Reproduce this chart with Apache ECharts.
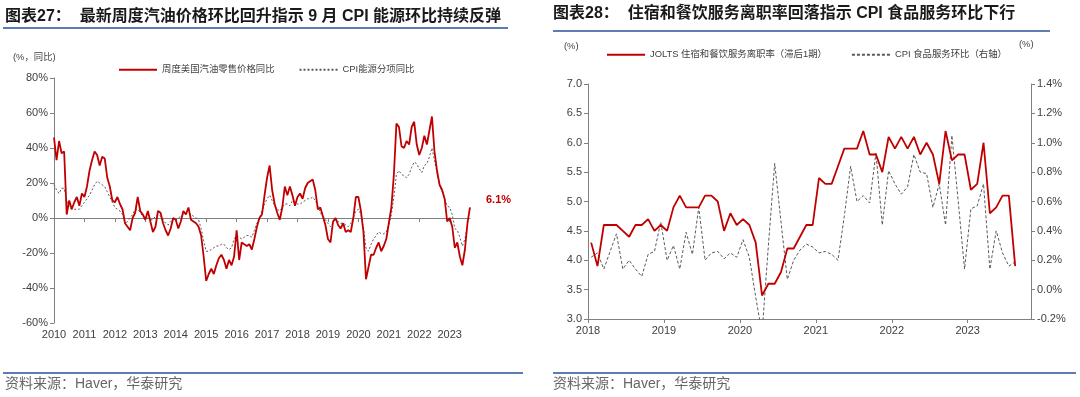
<!DOCTYPE html>
<html>
<head>
<meta charset="utf-8">
<script src="https://cdn.jsdelivr.net/npm/echarts@6/dist/echarts.min.js"></script>
<style>
  html, body { margin: 0; padding: 0; background: #fff; }
  #chart { width: 1080px; height: 397px; }
</style>
</head>
<body>
<div id="chart"></div>
<script>
// 图表27: 月度数据，2010-01 起
var gasStartYear = 2010
var gasYoy = [
  46, 33, 44, 37, 38, 2, 10, 5, 9, 12, 7, 14,
  12, 18, 27, 33, 38, 36, 30, 35, 34, 23, 18, 10,
  9, 12, 8, 5, -3, -5, -7, 0, 3, 12, 4, 2,
  -1, 4, -2, -8, -5, 4, 3, -3, -7, -10, -6, 0,
  -1, -6, -2, 4, 2, 6, -1, -2, -3, -5, -10, -22,
  -36, -32, -29, -32, -27, -23, -21, -24, -29, -24, -27, -22,
  -7, -24, -14, -15, -16, -15, -18, -12, -5, 0, 2, 13,
  23, 30, 16, 8, 3, -1, 6, 18, 13, 18, 13, 7,
  12, 14, 11, 17, 20, 21, 22, 16, 5, 6, 1, -4,
  -12, -14, -2, 0, -4, -6, -3, -8, -7, -8, 0, 12,
  12, 4, -8, -35, -28, -21, -21, -17, -14, -19, -16, -12,
  -3, 6, 25, 54, 52, 41, 40, 44, 42, 52, 55, 42,
  36, 40, 47, 42, 50, 58, 38, 27, 19, 16, 11, -2,
  0, -5, -17, -14, -22, -27, -18, -3, 6.1
]
var cpiEnergy = [
  19, 16, 14, 17, 17, 10, 6, 5, 5, 5, 5, 7,
  9, 11, 13, 16, 19, 21, 20, 19, 18, 15, 12, 9,
  6, 5, 4, 2, -3, -2, 0, 2, 5, 5, 3, 1,
  0, 0, -1, -1, 1, 2, 1, -1, -3, -4, -2, 0,
  -1, 0, 1, 2, 3, 3, 2, 1, 0, -1, -6, -13,
  -19, -19, -18, -17, -16, -16, -15, -15, -17, -18, -17, -12,
  -10, -11, -12, -11, -10, -10, -11, -7, -3, 0, 4, 8,
  11, 13, 10, 7, 5, 4, 6, 8, 8, 7, 10, 9,
  8, 8, 9, 10, 11, 11, 12, 10, 7, 3, 1, -1,
  -3, -5, -3, -1, -2, -3, -3, -4, -5, -3, 0, 4,
  5, 2, -6, -17, -19, -15, -12, -10, -8, -9, -9, -8,
  -4, 2, 12, 25, 27, 25, 24, 23, 25, 29, 32, 31,
  28, 26, 30, 31, 35, 40, 33, 26, 19, 15, 11, 7,
  6, 2, -6, -7, -11, -16, -12, -4
]
var gasYTicks = [-60, -40, -20, 0, 20, 40, 60, 80]

// 图表28: 月度数据，2018-01 起
var quitStartYear = 2018
var joltsQuits = [
  4.3, 3.9, 4.6, 4.6, 4.6, 4.5, 4.4, 4.6, 4.6, 4.7, 4.5, 4.6,
  4.5, 4.9, 5.1, 4.9, 4.9, 4.9, 5.1, 5.1, 5.0, 4.5, 4.8, 4.6,
  4.7, 4.6, 4.3, 3.4, 3.6, 3.6, 3.8, 4.2, 4.2, 4.4, 4.6, 4.6,
  5.4, 5.3, 5.3, 5.6, 5.9, 5.9, 5.9, 6.2, 5.8, 5.8, 5.5, 6.1,
  5.9, 6.1, 5.9, 6.1, 5.8, 6.0, 5.8, 5.3, 6.2, 5.7, 5.8, 5.8,
  5.2, 5.3, 6.0, 4.8, 4.9, 5.1, 5.1, 3.9
]
var cpiFoodServ = [
  0.22, 0.25, 0.14, 0.26, 0.38, 0.14, 0.20, 0.14, 0.09, 0.24, 0.26, 0.46,
  0.20, 0.30, 0.14, 0.39, 0.24, 0.56, 0.20, 0.25, 0.26, 0.21, 0.25, 0.22,
  0.34, 0.22, -0.05, -0.30, 0.30, 0.86, 0.46, 0.07, 0.20, 0.27, 0.31, 0.29,
  0.25, 0.26, 0.24, 0.20, 0.50, 0.84, 0.60, 0.64, 0.59, 0.93, 0.44, 0.81,
  0.72, 0.65, 0.70, 0.92, 0.80, 0.79, 0.56, 0.72, 0.44, 1.05, 0.60, 0.14,
  0.55, 0.57, 0.72, 0.14, 0.40, 0.25, 0.16, 0.19
]

var RED = '#c00000'
var GREY = '#595959'
var AXIS = '#808080'
var LABEL = '#404040'
var BLUE = '#5b7db1'
var FONT = '"Liberation Sans", "Noto Sans CJK SC", sans-serif'

var nameGas = '周度美国汽油零售价格同比'
var nameEnergy = 'CPI能源分项同比'
var nameQuit = 'JOLTS 住宿和餐饮服务离职率（滞后1期）'
var nameFood = 'CPI 食品服务环比（右轴）'

function yearTicks (count) {
  var t = []
  for (var i = 0; i < count; i++) t.push(i * 12)
  return t
}

var axisLine = { lineStyle: { color: AXIS, width: 1 } }
var labelStyle = { color: LABEL, fontSize: 11, fontFamily: FONT }
var legendText = { fontSize: 9.4, color: LABEL, fontFamily: FONT }

var chart = echarts.init(document.getElementById('chart'))
var option = {
  animation: false,
  backgroundColor: '#fff',
  grid: [
    { left: 54, top: 78, width: 416, height: 245 },
    { left: 588, top: 84, width: 443, height: 235 }
  ],
  legend: [
    {
      left: 113, top: 60, itemWidth: 38, itemHeight: 10, itemGap: 24,
      itemStyle: { opacity: 0 },
      data: [nameGas, nameEnergy],
      textStyle: legendText
    },
    {
      left: 601, top: 45, itemWidth: 38, itemHeight: 10, itemGap: 24,
      itemStyle: { opacity: 0 },
      data: [nameQuit, nameFood],
      textStyle: legendText
    }
  ],
  xAxis: [
    {
      gridIndex: 0, type: 'value', min: 0, max: gasYoy.length - 1, interval: 12,
      axisLine: { onZero: true, lineStyle: axisLine.lineStyle },
      axisTick: { show: true, length: 4, lineStyle: { color: AXIS }, customValues: yearTicks(14) },
      axisLabel: { show: false },
      splitLine: { show: false }
    },
    {
      gridIndex: 0, type: 'value', min: 0, max: gasYoy.length - 1, interval: 12, position: 'bottom',
      axisLine: { show: false, onZero: false },
      axisTick: { show: false },
      axisLabel: Object.assign({
        margin: 6,
        customValues: yearTicks(14),
        formatter: function (v) { return v % 12 === 0 ? String(gasStartYear + v / 12) : '' }
      }, labelStyle),
      splitLine: { show: false }
    },
    {
      gridIndex: 1, type: 'value', min: 0, max: 70, interval: 12,
      axisLine: { onZero: false, lineStyle: axisLine.lineStyle },
      axisTick: { show: true, length: 4, lineStyle: { color: AXIS }, customValues: yearTicks(6) },
      axisLabel: Object.assign({
        margin: 6,
        customValues: yearTicks(6),
        formatter: function (v) { return v % 12 === 0 ? String(quitStartYear + v / 12) : '' }
      }, labelStyle),
      splitLine: { show: false }
    }
  ],
  yAxis: [
    {
      gridIndex: 0, type: 'value', min: gasYTicks[0], max: gasYTicks[gasYTicks.length - 1], interval: 20,
      axisLine: { show: true, lineStyle: axisLine.lineStyle },
      axisTick: { show: true, length: 4, lineStyle: { color: AXIS } },
      axisLabel: Object.assign({ margin: 6, formatter: '{value}%' }, labelStyle),
      splitLine: { show: false }
    },
    {
      gridIndex: 1, type: 'value', min: 3, max: 7, interval: 0.5,
      axisLine: { show: true, lineStyle: axisLine.lineStyle },
      axisTick: { show: true, length: 4, lineStyle: { color: AXIS } },
      axisLabel: Object.assign({ margin: 6, formatter: function (v) { return v.toFixed(1) } }, labelStyle),
      splitLine: { show: false }
    },
    {
      gridIndex: 1, type: 'value', min: -0.2, max: 1.4, interval: 0.2, position: 'right',
      axisLine: { show: true, lineStyle: axisLine.lineStyle },
      axisTick: { show: true, length: 4, lineStyle: { color: AXIS } },
      axisLabel: Object.assign({ margin: 6, formatter: function (v) { return v.toFixed(1) + '%' } }, labelStyle),
      splitLine: { show: false }
    }
  ],
  series: [
    {
      name: nameEnergy, type: 'line', xAxisIndex: 0, yAxisIndex: 0, z: 2,
      symbol: 'none', color: GREY,
      lineStyle: { color: GREY, width: 1, type: [2, 2] },
      data: cpiEnergy.map(function (v, i) { return [i, v] })
    },
    {
      name: nameGas, type: 'line', xAxisIndex: 0, yAxisIndex: 0, z: 3,
      symbol: 'none', color: RED,
      lineStyle: { color: RED, width: 1.8 },
      endLabel: {
        show: true, offset: [8, -7], color: RED, fontWeight: 'bold', fontSize: 11, fontFamily: FONT,
        formatter: function (p) { return p.value[1].toFixed(1) + '%' }
      },
      data: gasYoy.map(function (v, i) { return [i, v] })
    },
    {
      name: nameQuit, type: 'line', xAxisIndex: 2, yAxisIndex: 1, z: 3,
      symbol: 'none', color: RED,
      lineStyle: { color: RED, width: 1.8 },
      data: joltsQuits.map(function (v, i) { return [i + 0.5, v] })
    },
    {
      name: nameFood, type: 'line', xAxisIndex: 2, yAxisIndex: 2, z: 2,
      symbol: 'none', color: GREY,
      lineStyle: { color: GREY, width: 1, type: [3, 2] },
      data: cpiFoodServ.map(function (v, i) { return [i + 0.5, v] })
    }
  ],
  graphic: [
    { type: 'text', left: 5, top: 9, style: { text: '图表27：  最新周度汽油价格环比回升指示 9 月 CPI 能源环比持续反弹', font: 'bold 16px ' + FONT, fill: '#1a1a1a' } },
    { type: 'text', left: 553, top: 6, style: { text: '图表28：  住宿和餐饮服务离职率回落指示 CPI 食品服务环比下行', font: 'bold 16px ' + FONT, fill: '#1a1a1a' } },
    { type: 'line', shape: { x1: 3, y1: 28, x2: 508, y2: 28 }, style: { stroke: BLUE, lineWidth: 2 } },
    { type: 'line', shape: { x1: 553, y1: 31, x2: 1050, y2: 31 }, style: { stroke: BLUE, lineWidth: 2 } },
    { type: 'line', shape: { x1: 3, y1: 373, x2: 523, y2: 373 }, style: { stroke: BLUE, lineWidth: 2 } },
    { type: 'line', shape: { x1: 553, y1: 373, x2: 1076, y2: 373 }, style: { stroke: BLUE, lineWidth: 2 } },
    { type: 'text', left: 5, top: 377, style: { text: '资料来源：Haver，华泰研究', font: '14px ' + FONT, fill: '#666' } },
    { type: 'text', left: 553, top: 377, style: { text: '资料来源：Haver，华泰研究', font: '14px ' + FONT, fill: '#666' } },
    { type: 'text', left: 13, top: 53, style: { text: '(%，同比)', font: '9.4px ' + FONT, fill: LABEL } },
    { type: 'text', left: 564, top: 42, style: { text: '(%)', font: '9.4px ' + FONT, fill: LABEL } },
    { type: 'text', left: 1019, top: 40, style: { text: '(%)', font: '9.4px ' + FONT, fill: LABEL } }
  ]
}
chart.setOption(option)
</script>
</body>
</html>
